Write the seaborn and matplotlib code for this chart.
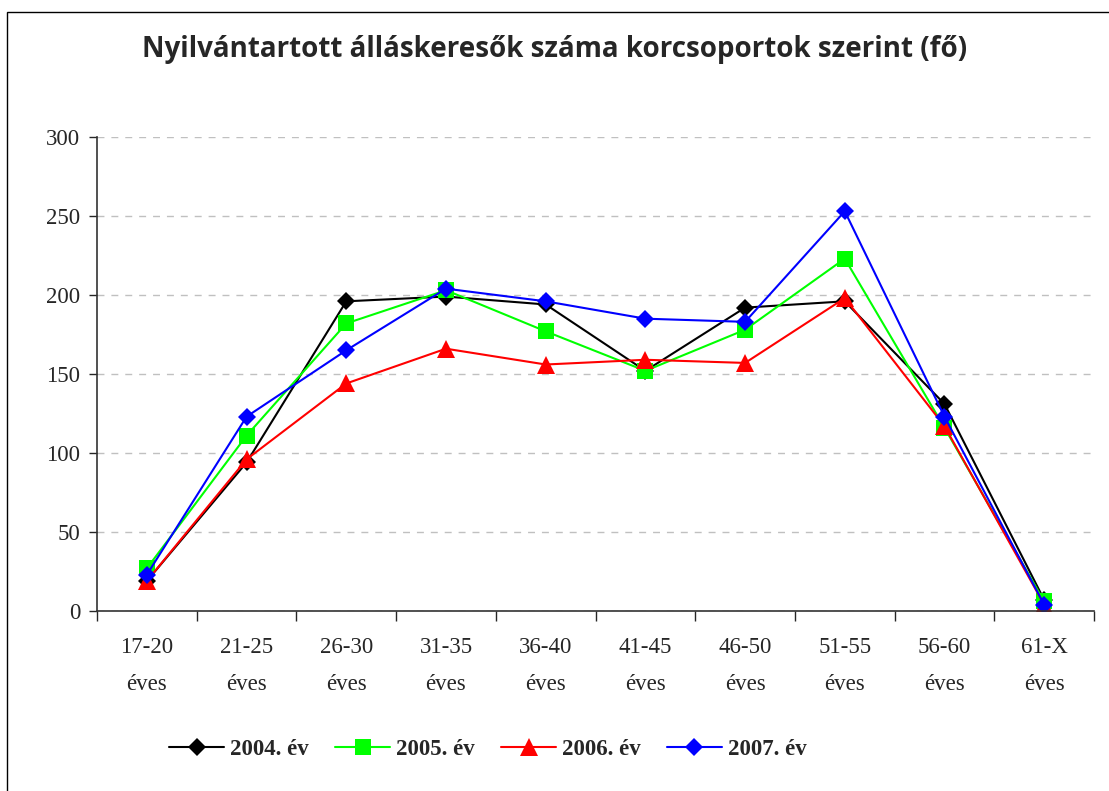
import pandas as pd
import matplotlib.pyplot as plt
import seaborn as sns
from matplotlib.patches import Rectangle

# Age groups and yearly counts
groups = ['17-20\néves', '21-25\néves', '26-30\néves', '31-35\néves', '36-40\néves',
          '41-45\néves', '46-50\néves', '51-55\néves', '56-60\néves', '61-X\néves']
y2004 = [19, 94, 196, 199, 194, 152, 192, 196, 131, 7]
y2005 = [27, 111, 182, 203, 177, 152, 178, 223, 116, 6]
y2006 = [19, 96, 144, 166, 156, 159, 157, 198, 117, 4]
y2007 = [23, 123, 165, 204, 196, 185, 183, 253, 123, 4]
years = ['2004. év', '2005. év', '2006. év', '2007. év']

rows = []
for year, vals in zip(years, [y2004, y2005, y2006, y2007]):
    for i, v in enumerate(vals):
        rows.append({'pos': i, 'ev': year, 'fo': v})
df = pd.DataFrame(rows)

sns.set_style('white')
plt.rcParams['font.family'] = ['Liberation Serif', 'DejaVu Serif']

fig = plt.figure(figsize=(11.09, 7.91), dpi=100)
ax = fig.add_axes([0.0875, 0.2276, 0.899, 0.5992])

palette = {'2004. év': '#000000', '2005. év': '#00ff00', '2006. év': '#ff0000', '2007. év': '#0000ff'}
markers = {'2004. év': 'D', '2005. év': 's', '2006. év': '^', '2007. év': 'D'}
sizes = {'2004. év': 9.5, '2005. év': 11.5, '2006. év': 13, '2007. év': 9.5}

for year in years:
    sub = df[df['ev'] == year]
    sns.lineplot(data=sub, x='pos', y='fo', ax=ax, color=palette[year], marker=markers[year],
                 markersize=sizes[year], markeredgewidth=0, linewidth=1.5, label=year,
                 sort=False)

ax.set_ylim(0, 300)
ax.set_xlim(-0.5, 9.5)
ax.set_yticks(range(0, 301, 50))
ax.set_xticks([i - 0.5 for i in range(11)])
ax.set_xticklabels([])
ax.set_xticks(range(10), minor=True)
ax.set_xticklabels(groups, minor=True, linespacing=1.95)
ax.tick_params(axis='x', which='minor', length=0, pad=19, labelsize=16.5)
ax.tick_params(axis='x', which='major', length=7, width=1, direction='out', bottom=True)
ax.tick_params(axis='y', length=6, width=1, direction='out', left=True, labelsize=16.5, pad=6)
ax.yaxis.grid(True, linestyle=(0, (5, 5)), color='#c0c0c0', linewidth=1)
ax.set_axisbelow(True)
ax.set_xlabel('')
ax.set_ylabel('')
for s in ['top', 'right']:
    ax.spines[s].set_visible(False)
for s in ['left', 'bottom']:
    ax.spines[s].set_color('#333333')
    ax.spines[s].set_linewidth(1.2)

ax.legend(loc='center', bbox_to_anchor=(0.44, 0.052), bbox_transform=fig.transFigure,
          ncol=4, frameon=False, prop={'family': 'Liberation Serif', 'weight': 'bold', 'size': 16.5},
          handlelength=2.4, columnspacing=1.15, handletextpad=0.25)

fig.text(0.5, 0.938, 'Nyilvántartott álláskeresők száma korcsoportok szerint (fő)',
         ha='center', va='center', fontsize=20, fontweight='bold', family=['Open Sans', 'DejaVu Sans'])

fig.patches.append(Rectangle((0.0063, -0.05), 1.1, 1.0348, transform=fig.transFigure,
                             fill=False, edgecolor='black', linewidth=1))

plt.savefig('out.png', dpi=100)
